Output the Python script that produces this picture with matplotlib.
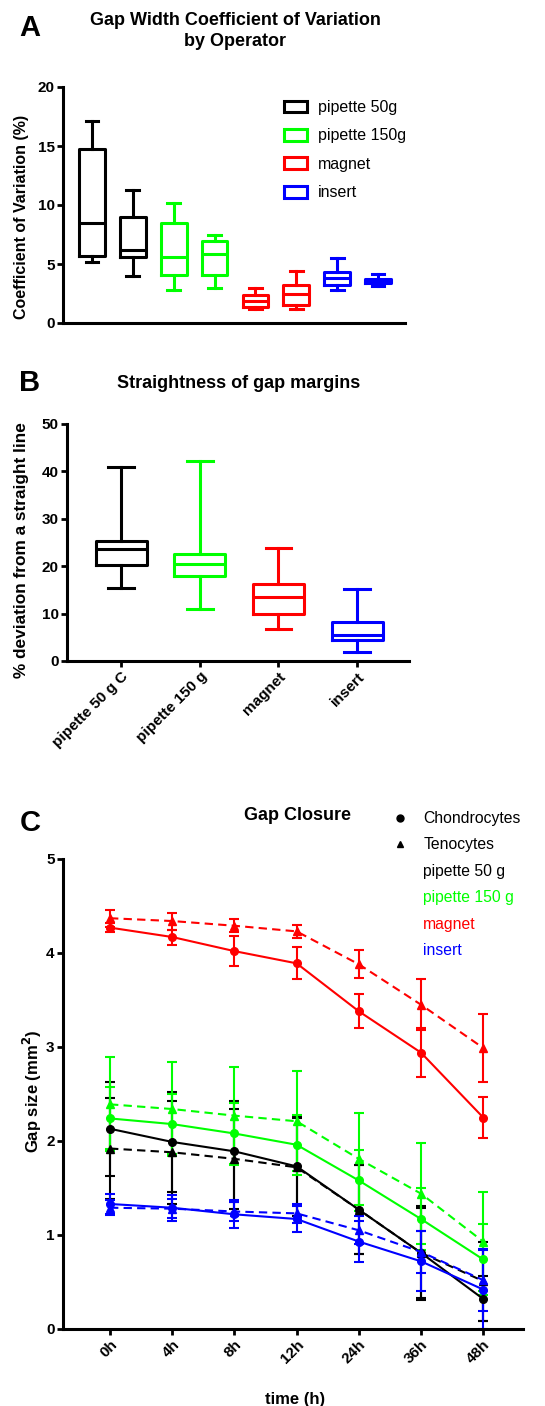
import numpy as np
import matplotlib
matplotlib.use("Agg")
import matplotlib.pyplot as plt
from matplotlib.patches import Patch
from matplotlib.lines import Line2D

plt.rcParams['font.family'] = ['Liberation Sans', 'DejaVu Sans']

# ---- panel A : CV by operator (two operators per method) ----
a_names = ["pipette 50g", "pipette 150g", "magnet", "insert"]
a_colors = ["#000000", "#00ff00", "#ff0000", "#0000ff"]
a_whislo = [5.17, 3.98, 2.82, 2.97, 1.19, 1.19, 2.82, 3.11]
a_q1 = [5.65, 5.59, 4.07, 4.07, 1.38, 1.55, 3.25, 3.39]
a_med = [8.47, 6.21, 5.56, 5.88, 1.89, 2.49, 3.79, 3.59]
a_q3 = [14.75, 8.95, 8.47, 6.98, 2.37, 3.19, 4.32, 3.76]
a_whishi = [17.15, 11.24, 10.17, 7.46, 2.97, 4.44, 5.48, 4.15]

# ---- panel B : straightness of gap margins ----
b_names = ["pipette 50 g C", "pipette 150 g", "magnet", "insert"]
b_whislo = [15.5, 10.9, 6.8, 2.0]
b_q1 = [20.35, 18.0, 9.86, 4.37]
b_med = [23.7, 20.56, 13.4, 5.42]
b_q3 = [25.3, 22.6, 16.3, 8.24]
b_whishi = [41.0, 42.25, 23.9, 15.2]

# ---- panel C : gap closure over time ----
times = ["0h", "4h", "8h", "12h", "24h", "36h", "48h"]
c_names = ["pipette 50 g", "pipette 150 g", "magnet", "insert"]
chondro = [
    [2.13, 1.99, 1.89, 1.73, 1.27, 0.81, 0.32],
    [2.24, 2.18, 2.08, 1.96, 1.58, 1.17, 0.74],
    [4.27, 4.17, 4.02, 3.89, 3.38, 2.94, 2.25],
    [1.33, 1.29, 1.22, 1.17, 0.93, 0.72, 0.42],
]
chondro_sd = [
    [0.50, 0.53, 0.54, 0.53, 0.47, 0.48, 0.24],
    [0.33, 0.32, 0.32, 0.32, 0.32, 0.33, 0.38],
    [0.05, 0.08, 0.16, 0.17, 0.18, 0.26, 0.22],
    [0.11, 0.14, 0.15, 0.14, 0.22, 0.32, 0.42],
]
teno = [
    [1.92, 1.88, 1.81, 1.72, 1.27, 0.81, 0.51],
    [2.39, 2.34, 2.27, 2.21, 1.81, 1.44, 0.93],
    [4.37, 4.34, 4.29, 4.23, 3.88, 3.45, 2.99],
    [1.29, 1.28, 1.25, 1.23, 1.05, 0.82, 0.52],
]
teno_sd = [
    [0.54, 0.55, 0.53, 0.52, 0.47, 0.50, 0.42],
    [0.50, 0.50, 0.52, 0.53, 0.49, 0.54, 0.53],
    [0.09, 0.09, 0.07, 0.07, 0.15, 0.27, 0.36],
    [0.08, 0.10, 0.10, 0.10, 0.15, 0.22, 0.33],
]

W, H = 545, 1406
fig = plt.figure(figsize=(W / 100, H / 100), dpi=100)


def fx(px):
    return px / W


def fy(py):
    return 1 - py / H


def style_axes(ax):
    for s in ["top", "right"]:
        ax.spines[s].set_visible(False)
    for s in ["left", "bottom"]:
        ax.spines[s].set_linewidth(2.2)
    ax.tick_params(width=2.0, length=4, labelsize=11, pad=2)
    for lab in ax.get_yticklabels() + ax.get_xticklabels():
        lab.set_fontweight("bold")


def draw_boxes(ax, lo, q1, med, q3, hi, cols, width):
    stats = []
    for i in range(len(med)):
        stats.append(dict(whislo=lo[i], q1=q1[i], med=med[i], q3=q3[i],
                          whishi=hi[i], fliers=[]))
    pos = np.arange(1, len(med) + 1)
    bp = ax.bxp(stats, positions=pos, widths=width, capwidths=width * 0.5,
                showfliers=False, manage_ticks=False)
    for i, c in enumerate(cols):
        bp["boxes"][i].set(color=c, linewidth=2.2)
        bp["medians"][i].set(color=c, linewidth=2.2)
        for k in (2 * i, 2 * i + 1):
            bp["whiskers"][k].set(color=c, linewidth=2.2)
            bp["caps"][k].set(color=c, linewidth=2.2)


# ---------- A ----------
axA = fig.add_axes([fx(63), fy(323), fx(405 - 63), (323 - 87) / H])
colsA = [a_colors[i // 2] for i in range(8)]
draw_boxes(axA, a_whislo, a_q1, a_med, a_q3, a_whishi, colsA, 0.63)
axA.set_xlim(0.29, 8.66)
axA.set_ylim(0, 20)
axA.set_yticks([0, 5, 10, 15, 20])
axA.set_xticks([])
style_axes(axA)
axA.set_ylabel("Coefficient of Variation (%)", fontsize=11.5, fontweight="bold")
axA.yaxis.set_label_coords(-0.099, 0.45)
handlesA = [Patch(facecolor="white", edgecolor=c, linewidth=2.2) for c in a_colors]
fig.legend(handlesA, a_names, loc="upper left", bbox_to_anchor=(fx(284), fy(100)),
           frameon=False, fontsize=11.5, handlelength=1.45, handleheight=0.75,
           handletextpad=0.65, labelspacing=0.84, borderpad=0, borderaxespad=0)
fig.text(fx(30), fy(28), "A", fontsize=21, fontweight="bold", ha="center", va="center")
fig.text(fx(235), fy(31), "Gap Width Coefficient of Variation\nby Operator",
         fontsize=13, fontweight="bold", ha="center", va="center", linespacing=1.35)

# ---------- B ----------
axB = fig.add_axes([fx(67), fy(661), fx(409 - 67), (661 - 424) / H])
draw_boxes(axB, b_whislo, b_q1, b_med, b_q3, b_whishi, a_colors, 0.65)
axB.set_xlim(0.31, 4.66)
axB.set_ylim(0, 50)
axB.set_yticks([0, 10, 20, 30, 40, 50])
axB.set_xticks(np.arange(1, 5))
axB.set_xticklabels(b_names, rotation=45, ha="right", rotation_mode="anchor")
style_axes(axB)
axB.set_ylabel("% deviation from a straight line", fontsize=12.4, fontweight="bold")
axB.yaxis.set_label_coords(-0.111, 0.468)
fig.text(fx(30), fy(383), "B", fontsize=21, fontweight="bold", ha="center", va="center")
fig.text(fx(239), fy(384), "Straightness of gap margins", fontsize=13,
         fontweight="bold", ha="center", va="center")

# ---------- C ----------
axC = fig.add_axes([fx(63), fy(1329), fx(523 - 63), (1329 - 859) / H])
x = np.arange(len(times))
for i, c in enumerate(a_colors):
    axC.errorbar(x, teno[i], yerr=teno_sd[i], color=c, marker="^", ms=5.5,
                 ls=(0, (4, 2.5)), lw=1.5, elinewidth=1.5, capsize=3.6, capthick=1.5)
    axC.errorbar(x, chondro[i], yerr=chondro_sd[i], color=c, marker="o", ms=5.5,
                 ls="-", lw=1.5, elinewidth=1.5, capsize=3.6, capthick=1.5)
axC.set_xlim(-0.756, 6.64)
axC.set_ylim(0, 5)
axC.set_yticks([0, 1, 2, 3, 4, 5])
axC.set_xticks(x)
axC.set_xticklabels(times, rotation=45, ha="right", rotation_mode="anchor")
style_axes(axC)
axC.set_ylabel("Gap size (mm$^\\mathbf{2}$)", fontsize=12, fontweight="bold")
axC.yaxis.set_label_coords(-0.041, 0.505)
axC.set_xlabel("time (h)", fontsize=12, fontweight="bold")
axC.xaxis.set_label_coords(0.505, -0.135)

handlesC = [Line2D([], [], color="black", marker="o", ls="none", ms=5),
            Line2D([], [], color="black", marker="^", ls="none", ms=5)]
handlesC += [Line2D([], [], ls="none") for _ in c_names]
labelsC = ["Chondrocytes", "Tenocytes"] + c_names
fig.legend(handlesC, labelsC, loc="upper left", bbox_to_anchor=(fx(392), fy(811)),
           frameon=False, fontsize=11.3, handlelength=1.0, handletextpad=1.0,
           labelspacing=0.73, borderpad=0, borderaxespad=0,
           labelcolor=["black", "black"] + a_colors)
fig.text(fx(30), fy(823), "C", fontsize=21, fontweight="bold", ha="center", va="center")
fig.text(fx(297), fy(815), "Gap Closure", fontsize=13, fontweight="bold",
         ha="center", va="center")

fig.savefig("out.png", dpi=100)
